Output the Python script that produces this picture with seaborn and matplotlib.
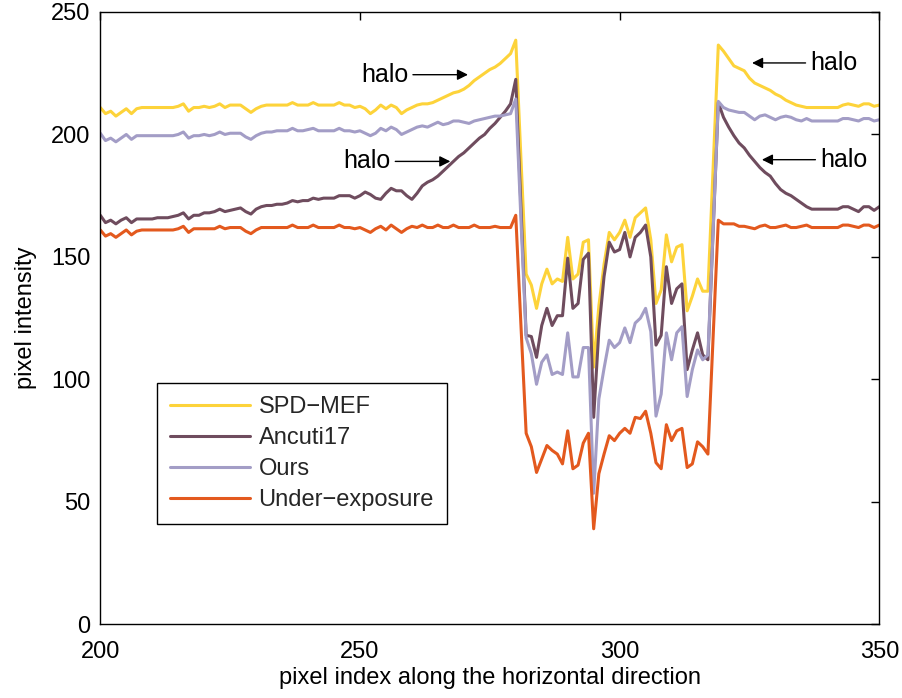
import matplotlib
matplotlib.use("Agg")
import matplotlib.pyplot as plt
import numpy as np
import pandas as pd
import seaborn as sns

# ---------------- data ----------------
x_index = list(range(200, 351))

spd_mef = [
    211, 208.5, 209.5, 207.5, 209, 210.5, 208.5, 210.5, 211, 211,
    211, 211, 211, 211, 211, 211.5, 212.5, 209.5, 211, 211,
    211.5, 211, 211.5, 212.5, 211, 212, 212, 212, 210.5, 209,
    210.5, 211.5, 212, 212, 212, 212, 212, 213, 212, 212,
    212, 213, 212, 212, 212, 212, 213, 212, 212, 211,
    211.5, 210.5, 208.5, 210, 212, 210.5, 212, 211, 208.5, 210,
    211, 212, 212.5, 212.5, 213, 214, 215, 216, 217, 217.5,
    218.5, 220, 222, 223.5, 225, 226.5, 227.5, 229, 231, 233,
    238.5,
    190, 143, 138.5, 129, 139, 145, 139, 141, 140, 158,
    141, 143, 156, 157, 105, 130, 147, 160, 157, 160,
    165, 158, 166, 168, 170, 157, 131, 136.5, 159, 148,
    154, 155, 128, 134, 141, 136, 136, 186,
    236.5, 234, 231, 228, 227, 226, 223, 221, 220, 219,
    218, 216.5, 215.5, 214, 213, 212, 211.5, 211, 211, 211,
    211, 211, 211, 211, 212, 212.5, 212, 211.5, 212.5, 212.5,
    211.5, 212,
]

ancuti17 = [
    167, 164, 165, 163.5, 165, 166, 164, 165.5, 165.5, 165.5,
    165.5, 166, 166, 166, 166.5, 167, 168, 165.5, 167, 167,
    168, 168, 168.5, 169.5, 168.5, 169, 169.5, 170, 168.5, 167.5,
    169.5, 170.5, 171, 171, 171.5, 171.5, 172, 173, 172.5, 173,
    173, 174, 173.5, 174, 174, 174, 175, 175, 175, 174,
    175, 176.5, 175.5, 174, 173.5, 176, 178, 177, 177, 175,
    173.5, 176, 179, 180.5, 181.5, 183, 185, 187, 189, 191,
    192.5, 194.5, 196.5, 198.5, 200, 202.5, 204.5, 207, 209.5, 212.5,
    222.5,
    170, 118, 117.5, 109, 122, 129, 122, 126, 126, 149.5,
    129, 131, 149, 151.5, 84.5, 120, 142, 156, 152, 153,
    160, 150, 158, 160, 163, 150, 114, 118, 146, 131,
    137, 139, 104, 112, 119, 110, 108, 160,
    213, 207, 203, 199.5, 196.5, 194.5, 191.5, 189, 186.5, 184.5,
    183, 180, 177.5, 176, 175, 173.5, 172, 170.5, 169.5, 169.5,
    169.5, 169.5, 169.5, 169.5, 170.5, 170.5, 169.5, 168.5, 170.5, 170.5,
    169, 170.5,
]

ours = [
    200.5, 197.5, 198.5, 197, 198.5, 200, 198, 199.5, 199.5, 199.5,
    199.5, 199.5, 199.5, 199.5, 199.5, 200, 201, 198.5, 199.5, 199.5,
    200, 199.5, 200, 201, 200, 200.5, 200.5, 200.5, 199, 198,
    199.5, 200.5, 201, 201, 201.5, 201.5, 201.5, 202.5, 201.5, 201.5,
    202, 202.5, 201.5, 201.5, 201.5, 201.5, 202.5, 201.5, 201.5, 201,
    201.5, 200.5, 199.5, 200.5, 202.5, 201.5, 203, 202, 200, 201,
    202, 203, 203.5, 203, 204, 205, 204, 204.5, 205.5, 205.5,
    205, 204.5, 205.5, 206, 206.5, 207, 207.5, 207.5, 208, 208.5,
    214.5,
    165, 117, 110.5, 98, 107, 110, 102, 103, 102, 119,
    101, 101, 113, 113, 53.5, 92, 104.5, 116, 113, 115,
    121, 115, 123, 125, 129, 119.5, 85, 94, 119, 108,
    119, 121.5, 93, 104, 112, 108, 110, 161,
    213.5, 211, 210, 209.5, 209, 209, 207.5, 206, 207.5, 208,
    207, 206, 207, 207.5, 207, 206, 205.5, 206.5, 205.5, 205.5,
    205.5, 205.5, 205.5, 205.5, 206.5, 206.5, 206, 205.5, 206.5, 206.5,
    205.5, 206,
]

under_exposure = [
    161, 158.5, 159.5, 158, 159.5, 161, 159, 160.5, 161, 161,
    161, 161, 161, 161, 161, 161.5, 162.5, 160, 161.5, 161.5,
    161.5, 161.5, 161.5, 162.5, 161.5, 162, 162, 162, 160.5, 159.5,
    161, 162, 162, 162, 162, 162, 162, 163, 162, 162,
    162, 163, 162, 162, 162, 162, 163, 162, 162, 161.5,
    162, 161, 160, 161.5, 162.5, 161, 163, 161.5, 160, 161.5,
    162.5, 162, 163, 162, 162, 163, 162, 162, 163, 162,
    162, 162, 163, 162, 162, 162, 162.5, 162, 162, 162,
    167,
    122, 78, 72.5, 62, 67.5, 73, 71, 69.5, 65.5, 79,
    63.5, 65, 74, 78, 39, 61.5, 69.5, 77, 75, 78,
    80, 78, 84.5, 84, 87, 78, 66, 63.5, 81.5, 75,
    79, 80, 64, 65.5, 74.5, 72.5, 69.5, 117,
    165, 163.5, 163.5, 163.5, 162.5, 162.5, 162, 161.5, 162.5, 163,
    162, 162, 162.5, 163, 162, 162, 162.5, 163, 162, 162,
    162, 162, 162, 162, 163, 163, 162.5, 162, 163, 163,
    162, 163,
]

series_names = ["SPD\u2212MEF", "Ancuti17", "Ours", "Under\u2212exposure"]
series_colors = ["#FDD33A", "#6F4C5E", "#A39DC6", "#E3591E"]
x_ticks = [200, 250, 300, 350]
y_ticks = [0, 50, 100, 150, 200, 250]

# halo annotations
halo_text = "halo"
halo_y = [224.4, 189.0, 229.2, 189.7]
halo_tail = [260.2, 256.8, 335.8, 337.7]
halo_tip = [270.8, 267.4, 325.5, 327.4]
halo_side = ["right", "right", "left", "left"]

for s in (spd_mef, ancuti17, ours, under_exposure):
    assert len(s) == len(x_index), len(s)

df = pd.DataFrame({
    "x": x_index * 4,
    "value": spd_mef + ancuti17 + ours + under_exposure,
    "method": sum([[n] * len(x_index) for n in series_names], []),
})

# ---------------- style ----------------
sns.set_theme(style="white")
plt.rcParams["font.family"] = ["Liberation Sans", "DejaVu Sans"]
FS = 17
LW = 2.2

fig = plt.figure(figsize=(9.03, 6.98), dpi=100)
ax = fig.add_axes([100.3 / 903, (698 - 624.3) / 698, 779 / 903, 612.3 / 698])

sns.lineplot(data=df, x="x", y="value", hue="method", hue_order=series_names,
             palette=series_colors, linewidth=LW, ax=ax, estimator=None,
             sort=False)

ax.set_xlim(200, 350)
ax.set_ylim(0, 250)
ax.set_xticks(x_ticks)
ax.set_yticks(y_ticks)
ax.tick_params(direction="in", length=6, width=1, top=True, right=True,
               labelsize=FS, colors="black")
ax.tick_params(axis="x", pad=12)
ax.tick_params(axis="y", pad=7)
for sp in ax.spines.values():
    sp.set_visible(True)
    sp.set_color("black")
    sp.set_linewidth(1.0)

ax.set_xlabel("pixel index along the horizontal direction", fontsize=FS,
              labelpad=3, color="black")
ax.set_ylabel("pixel intensity", fontsize=FS, labelpad=10, color="black")

# annotations
for yv, tail, tip, side in zip(halo_y, halo_tail, halo_tip, halo_side):
    ax.annotate("", xy=(tip, yv), xytext=(tail, yv),
                arrowprops=dict(arrowstyle="-|>", color="black", lw=1.0,
                                shrinkA=0, shrinkB=0, mutation_scale=16))
    if side == "right":
        ax.text(tail - 0.9, yv, halo_text, ha="right", va="center",
                fontsize=FS + 1, color="black")
    else:
        ax.text(tail + 0.9, yv, halo_text, ha="left", va="center",
                fontsize=FS + 1, color="black")

# legend
handles, labels = ax.get_legend_handles_labels()
leg = ax.legend(handles, labels, loc="upper left",
                bbox_to_anchor=(0.0728, 0.394), borderaxespad=0,
                fontsize=FS, handlelength=3.4, handletextpad=0.35,
                labelspacing=0.38, borderpad=0.55, fancybox=False,
                framealpha=1, edgecolor="black")
leg.get_frame().set_linewidth(1.0)
for h in leg.get_lines():
    h.set_linewidth(LW)

fig.savefig("out.png", dpi=100)
